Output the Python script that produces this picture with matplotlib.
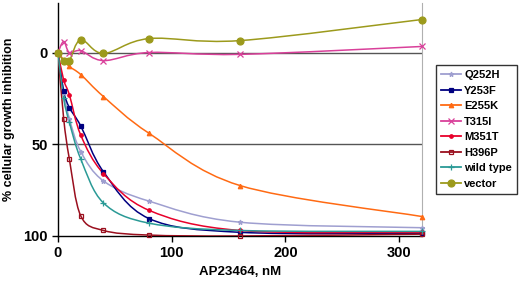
"""Growth inhibition vs AP23464 concentration for Bcr-Abl mutants."""

import matplotlib

matplotlib.use("Agg")

import matplotlib.pyplot as plt
import numpy as np
from matplotlib.lines import Line2D
from matplotlib.patches import PathPatch
from matplotlib.path import Path

plt.rcParams["font.family"] = ["Liberation Sans", "DejaVu Sans"]
plt.rcParams["font.weight"] = "bold"

dose_nm = [0, 5, 10, 20, 40, 80, 160, 320]

q252h = [0, 22, 36, 54, 70, 81, 92.5, 95.5]
y253f = [0, 21, 30, 40, 65, 90.5, 98, 98.5]
e255k = [0, 4, 7.6, 12, 24, 44, 72.5, 89.4]
t315i = [0, -6, 0, -1, 4.4, 0, 1, -3.3]
m351t = [0, 15, 23, 45, 66, 86, 97, 98]
h396p = [0, 36, 58, 89, 97, 99.5, 100, 99]
wild_type = [0, 25, 38, 58, 82, 93, 97, 97.5]
vector = [0, 4.4, 4.4, -7, 0.5, -7.6, -6.5, -18]

series = [
    ("Q252H", q252h, "#9f9fd0", "*", 3.5, "#9f9fd0"),
    ("Y253F", y253f, "#000080", "s", 2.8, "#000080"),
    ("E255K", e255k, "#ff6a13", "^", 3.2, "#ff6a13"),
    ("T315I", t315i, "#d9409a", "x", 4, "#d9409a"),
    ("M351T", m351t, "#e8002a", "o", 2.5, "#e8002a"),
    ("H396P", h396p, "#9a0f1e", "s", 3.2, "none"),
    ("wild type", wild_type, "#2a9a96", "+", 4.5, "#2a9a96"),
    ("vector", vector, "#9c9a1c", "o", 5, "#9c9a1c"),
]


def smooth_path(xs, ys):
    """Excel-style smoothed line through the points (Catmull-Rom as Bezier)."""
    pts = np.column_stack([xs, ys]).astype(float)
    padded = np.vstack([pts[0], pts, pts[-1]])
    verts = [pts[0]]
    codes = [Path.MOVETO]
    for i in range(1, len(padded) - 2):
        p0, p1, p2, p3 = padded[i - 1], padded[i], padded[i + 1], padded[i + 2]
        verts += [p1 + (p2 - p0) / 6, p2 - (p3 - p1) / 6, p2]
        codes += [Path.CURVE4] * 3
    return Path(verts, codes)


fig = plt.figure(figsize=(5.2, 2.85), dpi=100)
ax = fig.add_axes([0.1115, 0.172, 0.7, 0.8175])

ax.axhline(0, color="#555555", lw=1, zorder=1)
ax.axhline(50, color="#555555", lw=1, zorder=1)

handles = []
for name, values, color, marker, size, face in series:
    ax.add_patch(PathPatch(smooth_path(dose_nm, values), fill=False,
                           edgecolor=color, lw=1.1, zorder=3))
    ax.plot(dose_nm, values, ls="none", marker=marker, ms=size, color=color,
            markerfacecolor=face, markeredgewidth=0.9, zorder=4, clip_on=False)
    handles.append(Line2D([], [], color=color, lw=1.3, marker=marker, ms=size,
                          markerfacecolor=face, markeredgewidth=0.9, label=name))

ax.set_xlim(0, 320)
ax.set_ylim(100, -27)
ax.set_xticks([0, 100, 200, 300])
ax.set_yticks([0, 50, 100])
ax.tick_params(axis="both", direction="out", length=4, width=1, labelsize=10.5)
for lab in ax.get_xticklabels() + ax.get_yticklabels():
    lab.set_fontweight("bold")

ax.spines["top"].set_visible(False)
ax.spines["right"].set_color("#b0b0b0")
ax.spines["left"].set_linewidth(1)
ax.spines["bottom"].set_linewidth(1)

ax.set_xlabel("AP23464, nM", fontsize=9.5, fontweight="bold", labelpad=4)
ax.set_ylabel("% cellular growth inhibition", fontsize=9, fontweight="bold", labelpad=6)

leg = fig.legend(handles=handles, loc="upper left", bbox_to_anchor=(0.838, 0.772),
                 bbox_transform=fig.transFigure, fontsize=8, frameon=True,
                 fancybox=False, edgecolor="black", handlelength=1.8,
                 handletextpad=0.3, borderpad=0.45, labelspacing=0.5,
                 borderaxespad=0)
leg.get_frame().set_linewidth(1)
for text in leg.get_texts():
    text.set_fontweight("bold")

fig.savefig("out.png", dpi=100)
